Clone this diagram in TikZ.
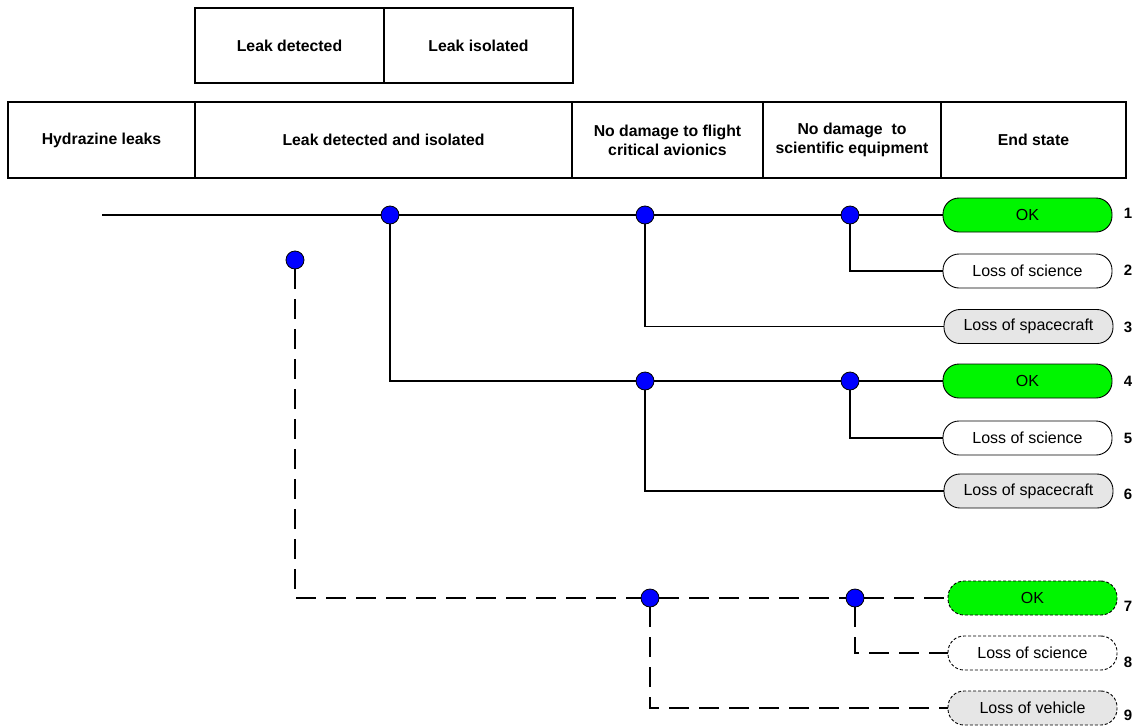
\documentclass[tikz,border=0pt]{standalone}
\usepackage{fontspec}
\setmainfont{Liberation Sans}
\usetikzlibrary{positioning}
\definecolor{okgreen}{RGB}{0,245,0}
\definecolor{lossgray}{RGB}{230,230,230}
\begin{document}
\begin{tikzpicture}[x=1pt,y=-1pt,
  hdr/.style={draw,line width=1.6pt,outer sep=0pt,minimum height=76pt,inner sep=0pt,align=center,font=\bfseries\fontsize{15.8}{19}\selectfont},
  dot/.style={circle,draw,fill=blue,minimum size=18pt,inner sep=0pt,line width=0.8pt},
  end/.style={draw,rounded corners=16pt,minimum width=169pt,minimum height=34pt,line width=0.9pt,font=\fontsize{16}{18}\selectfont},
  fut/.style={end,dash pattern=on 3pt off 2pt},
  ln/.style={line width=1.9pt},
  dln/.style={line width=1.9pt,dash pattern=on 20pt off 10pt},
  num/.style={font=\bfseries\fontsize{15}{17}\selectfont}]
\useasboundingbox (0,0) rectangle (1135,726);
% headings
\node [hdr,minimum width=189pt,minimum height=75pt] (ld) at (289.5,45.5) {Leak detected};
\node [hdr,minimum width=189pt,minimum height=75pt,right=0pt of ld] (li) {Leak isolated};
\node [hdr,minimum width=187pt] (hz) at (101.5,140) {Hydrazine leaks};
\node [hdr,minimum width=377pt,right=0pt of hz] (ldi) {Leak detected and isolated};
\node [hdr,minimum width=191pt,right=0pt of ldi] (avi) {No damage to flight\\critical avionics};
\node [hdr,minimum width=178pt,right=0pt of avi] (sci) {No damage~ to\\scientific equipment};
\node [hdr,minimum width=185pt,right=0pt of sci] (es) {End state};
% branch points
\coordinate (start) at (102,215);
\node [dot] (dA) at (390,215) {};
\node [dot] (dB) at (645,215) {};
\node [dot] (dC) at (850,215) {};
\node [dot] (dD) at (645,381) {};
\node [dot] (dE) at (850,381) {};
\node [dot] (dF) at (295,260) {};
\node [dot] (dG) at (650,598) {};
\node [dot] (dH) at (855,598) {};
% end states
\node [end,fill=okgreen] (okA) at (1027.5,215) {OK};
\node [end] (sciA) at (1027.5,271) {Loss of science};
\node [end,fill=lossgray] (scA) at (1028.5,326.5) {Loss of spacecraft};
\node [end,fill=okgreen] (okB) at (1027.5,381) {OK};
\node [end] (sciB) at (1027.5,438) {Loss of science};
\node [end,fill=lossgray] (scB) at (1028.5,491) {Loss of spacecraft};
\node [fut,fill=okgreen] (okC) at (1032.5,598) {OK};
\node [fut] (sciC) at (1032.5,653) {Loss of science};
\node [fut,fill=lossgray] (veh) at (1032.5,708) {Loss of vehicle};
\foreach \k/\y in {1/213,2/270,3/327,4/381,5/438,6/494,7/606,8/662,9/715}
  \node [num] (n\k) at (1128,\y) {\k};
% sequences
\draw [ln] (start) -- (dA) -- (dB) -- (dC) -- (okA);
\draw [ln] (dC) |- (sciA);
\draw [ln] (dB) |- (scA);
\draw [ln] (dA) |- (dD) -- (dE) -- (okB);
\draw [ln] (dE) |- (sciB);
\draw [ln] (dD) |- (scB);
\draw [dln] (dF) |- (dG) -- (dH) -- (okC);
\draw [dln] (dH) |- (sciC);
\draw [dln] (dG) |- (veh);
\end{tikzpicture}
\end{document}
